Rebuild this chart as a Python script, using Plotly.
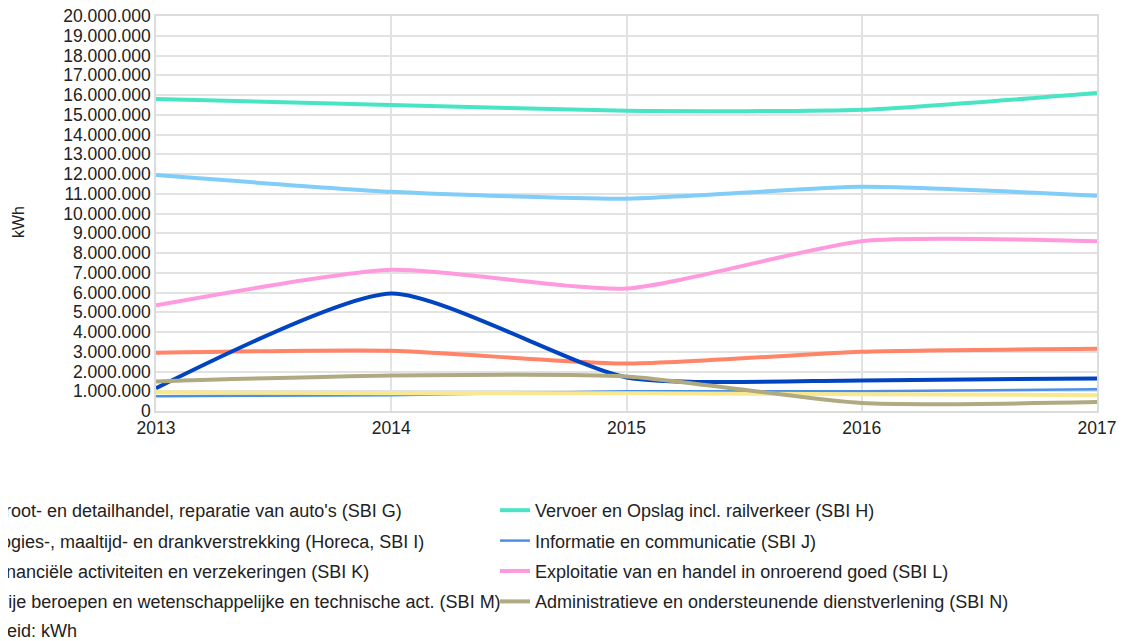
import plotly.graph_objects as go

years = [2013, 2014, 2015, 2016, 2017]

names = [
    "Groot- en detailhandel, reparatie van auto's (SBI G)",
    "Vervoer en Opslag incl. railverkeer (SBI H)",
    "Logies-, maaltijd- en drankverstrekking (Horeca, SBI I)",
    "Informatie en communicatie (SBI J)",
    "Financiële activiteiten en verzekeringen (SBI K)",
    "Exploitatie van en handel in onroerend goed (SBI L)",
    "Vrije beroepen en wetenschappelijke en technische act. (SBI M)",
    "Administratieve en ondersteunende dienstverlening (SBI N)",
]

sbi_g = [11950000, 11100000, 10750000, 11350000, 10900000]
sbi_h = [15800000, 15500000, 15200000, 15250000, 16100000]
sbi_i = [2950000, 3050000, 2400000, 3000000, 3150000]
sbi_j = [750000, 800000, 1000000, 1000000, 1100000]
sbi_k = [1150000, 5950000, 1700000, 1550000, 1650000]
sbi_l = [5350000, 7150000, 6200000, 8600000, 8600000]
sbi_m = [950000, 900000, 900000, 850000, 800000]
sbi_n = [1500000, 1800000, 1750000, 400000, 450000]

series = [sbi_g, sbi_h, sbi_i, sbi_j, sbi_k, sbi_l, sbi_m, sbi_n]
colors = ["#80cdf8", "#48e4c4", "#ff8468", "#4a90e8", "#0044c0", "#ff9ade", "#f8e890", "#b0aa82"]
widths = [4, 4, 4, 2.5, 4, 4, 4, 4]
legend_ids = ["legend", "legend2", "legend", "legend2", "legend", "legend2", "legend", "legend2"]

FONT = "Liberation Sans, Arial, sans-serif"
TXT = "#222222"

fig = go.Figure()
for i, (nm, vals) in enumerate(zip(names, series)):
    fig.add_trace(go.Scatter(
        x=years, y=vals, name=nm, mode="lines",
        line=dict(color=colors[i], width=widths[i], shape="spline", smoothing=0.6),
        legend=legend_ids[i], legendgroup="g%d" % i,
    ))

# page body has an 8px margin; figure is sized to fill the rest of the window
W, H = 1116, 633
L, R, T, B = 148, 27, 8, 230
pw, ph = W - L - R, H - T - B


def px_x(px):
    return (px - L) / pw


def px_y(py):
    return (H - B - py) / ph


legend_common = dict(
    xref="paper", yref="paper", xanchor="left", yanchor="top",
    font=dict(family=FONT, size=18, color=TXT),
    bgcolor="rgba(0,0,0,0)", borderwidth=0, tracegroupgap=4,
    orientation="v", itemwidth=30,
)

fig.update_layout(
    width=W, height=H,
    margin=dict(l=L, r=R, t=T, b=B, autoexpand=False),
    paper_bgcolor="white", plot_bgcolor="white",
    separators=",.",
    showlegend=True,
    legend=dict(x=px_x(-57), y=px_y(484), **legend_common),
    legend2=dict(x=px_x(487), y=px_y(484), **legend_common),
    font=dict(family=FONT, color=TXT),
    xaxis=dict(
        range=[2013, 2017], tickvals=years, ticktext=[str(y) for y in years],
        showgrid=True, gridcolor="#e2e2e2", gridwidth=1.5,
        showline=True, linecolor="#dcdcdc", linewidth=1.5, mirror=True,
        zeroline=False, ticks="", tickfont=dict(family=FONT, size=17.5, color=TXT),
        ticklabeloverflow="allow",
    ),
    yaxis=dict(
        range=[0, 20000000], dtick=1000000, tickformat=",d",
        showgrid=True, gridcolor="#e2e2e2", gridwidth=1.5,
        showline=True, linecolor="#dcdcdc", linewidth=1.5, mirror=True,
        zeroline=False, ticks="", tickfont=dict(family=FONT, size=17.5, color=TXT),
        ticklabeloverflow="allow",
    ),
    annotations=[
        dict(
            text="kWh", xref="paper", yref="paper", x=px_x(10), y=px_y(214),
            xanchor="center", yanchor="middle", textangle=-90, showarrow=False,
            font=dict(family=FONT, size=16, color=TXT),
        ),
        dict(
            text="Eenheid: kWh", xref="paper", yref="paper",
            x=px_x(-45), y=px_y(623), xanchor="left", yanchor="middle",
            showarrow=False, font=dict(family=FONT, size=18, color=TXT),
        ),
    ],
)

fig.write_html("out.html")
